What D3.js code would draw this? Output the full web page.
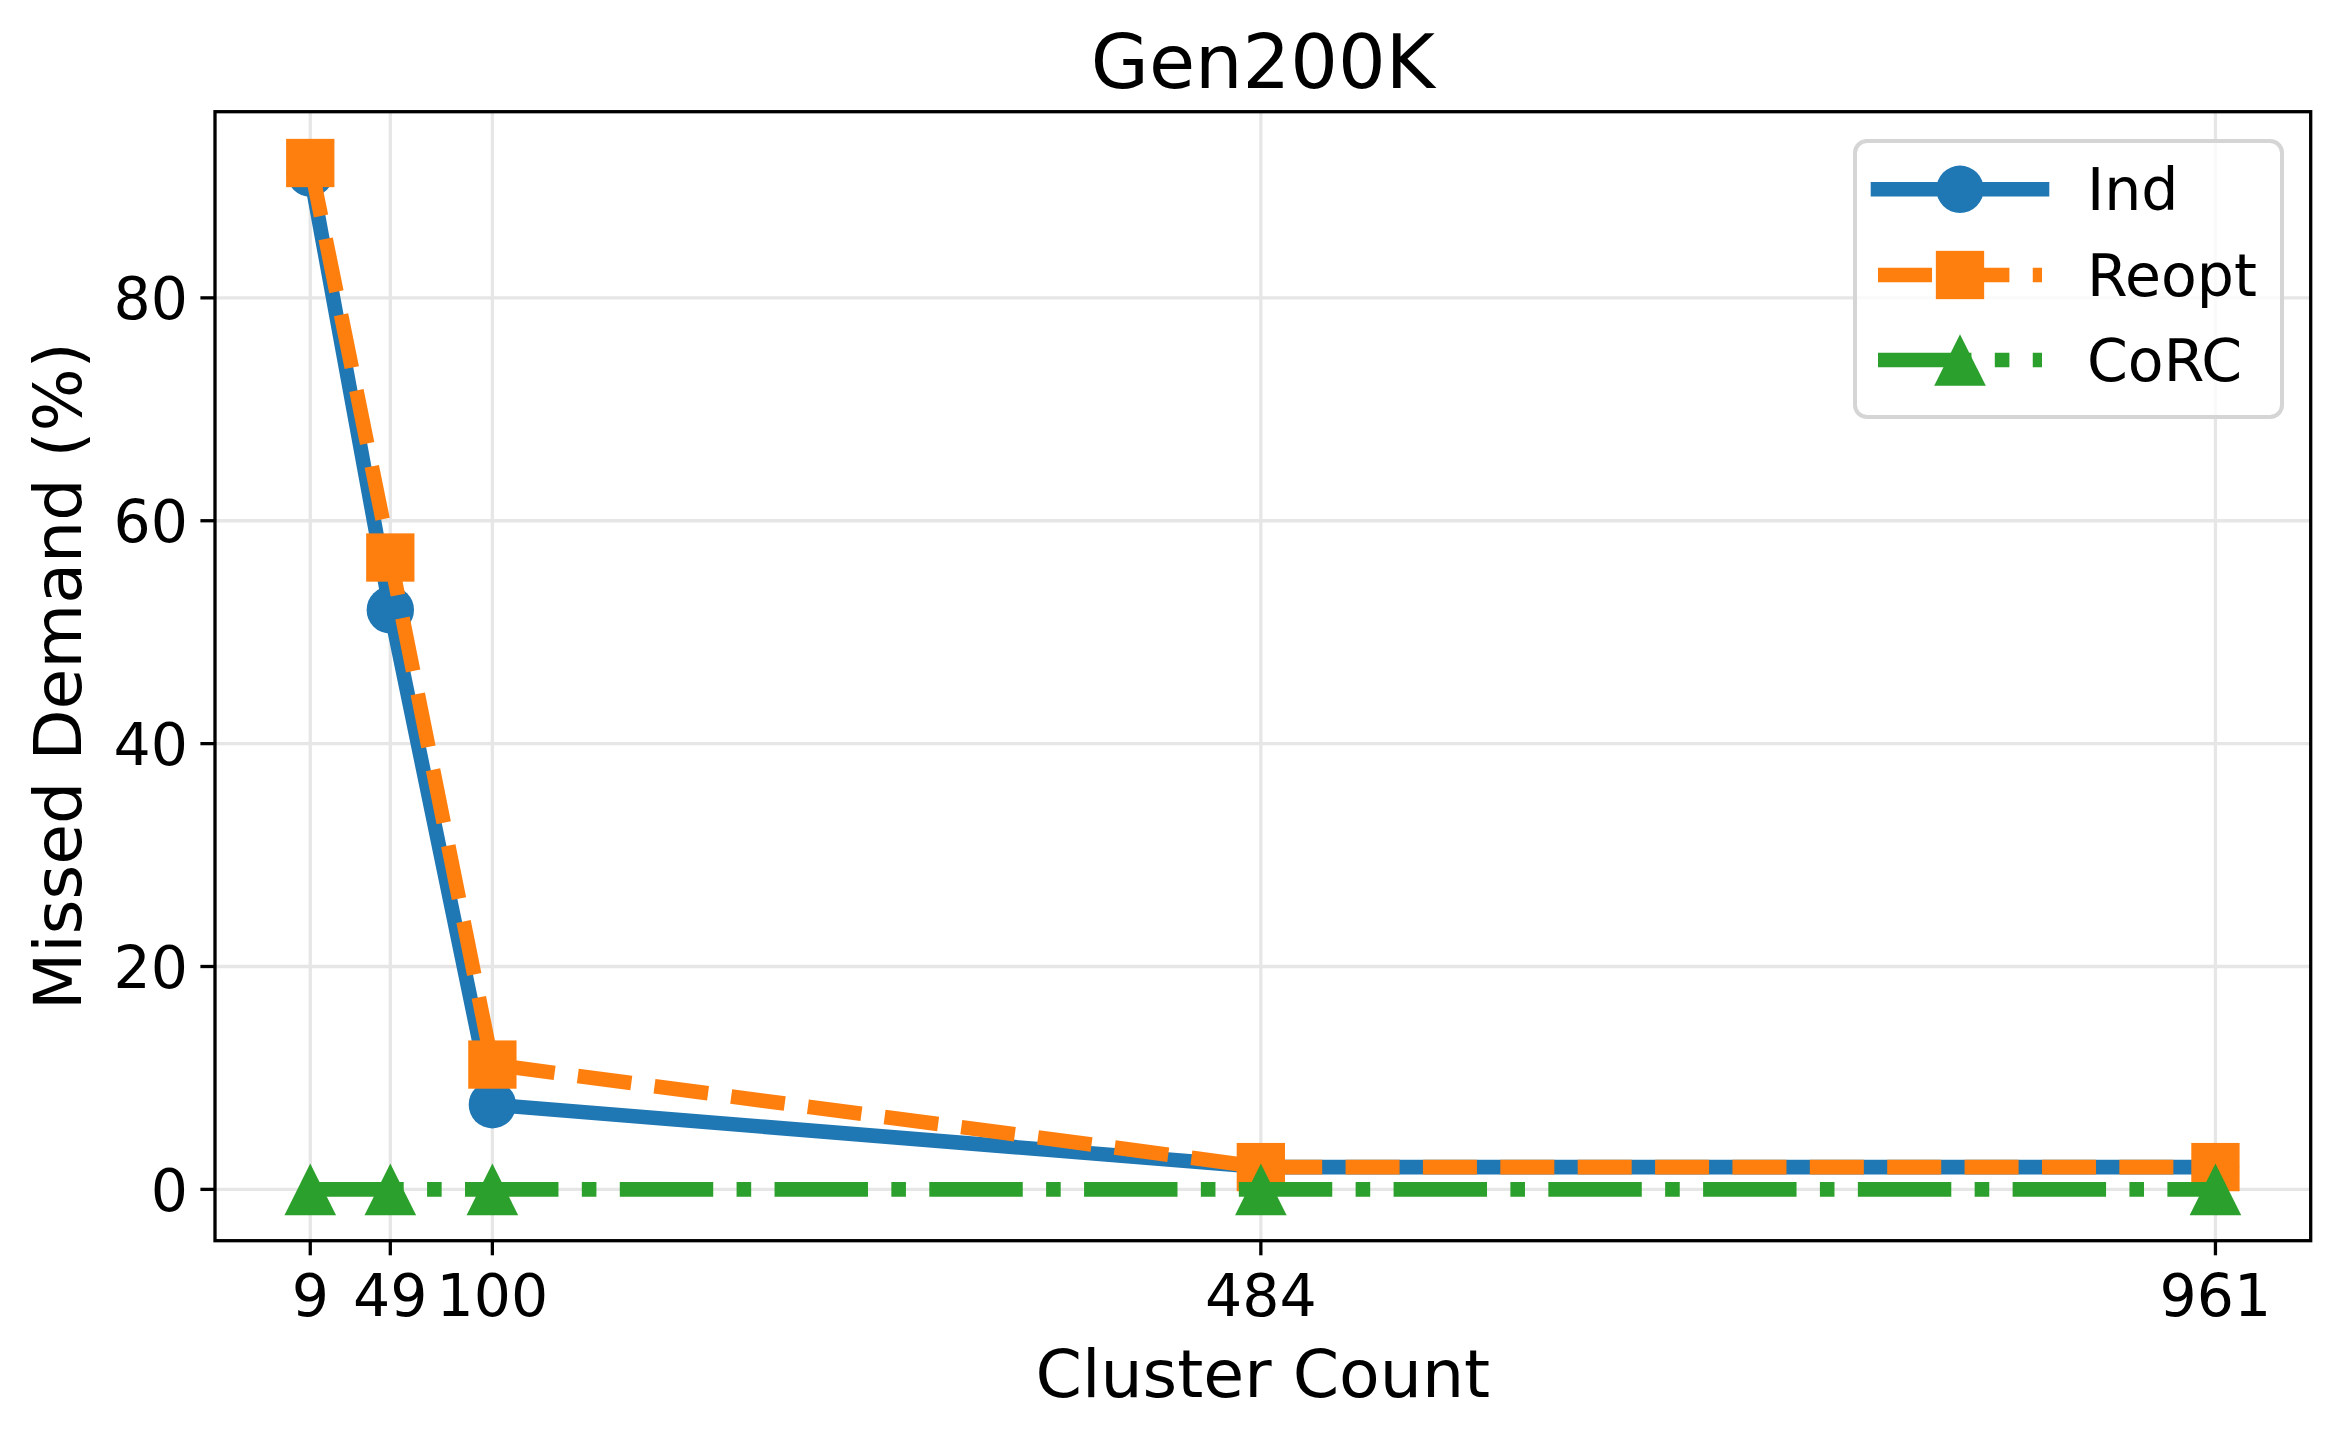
<!DOCTYPE html>
<html>
<head>
<meta charset="utf-8">
<script src="https://cdn.jsdelivr.net/npm/d3@7"></script>
<style>
  body { margin: 0; background: #fff; }
  svg text { font-family: "DejaVu Sans", sans-serif; fill: #000; }
</style>
</head>
<body>
<div id="chart"></div>
<script>
// 数据
const clusterCounts = [9, 49, 100, 484, 961];
const indValues = [91.2, 52.0, 7.6, 2.0, 2.0];
const reoptValues = [92.1, 56.7, 11.2, 2.0, 2.0];
const corcValues = [0, 0, 0, 0, 0];
const yTicks = [0, 20, 40, 60, 80];
const seriesNames = ['Ind', 'Reopt', 'CoRC'];

const width = 2340;
const height = 1440;
const margin = { top: 111.7, right: 29.3, bottom: 199.3, left: 215 };
const lw = 14.6;
const tickFont = 58.5;

const colors = {
  ind: '#1f77b4',
  reopt: '#ff7f0e',
  corc: '#2ca02c',
  grid: '#e6e6e6'
};

const series = [
  { name: seriesNames[0], values: indValues, color: colors.ind, dash: null, marker: 'circle' },
  { name: seriesNames[1], values: reoptValues, color: colors.reopt, dash: [3.7 * lw, 1.6 * lw], marker: 'square' },
  { name: seriesNames[2], values: corcValues, color: colors.corc, dash: [6.4 * lw, 1.6 * lw, 1 * lw, 1.6 * lw], marker: 'triangle' }
];

const svg = d3.select('#chart').append('svg')
  .attr('width', width)
  .attr('height', height);

// 比例尺（5% 边距）
const xExt = d3.extent(clusterCounts);
const xPad = (xExt[1] - xExt[0]) * 0.05;
const x = d3.scaleLinear()
  .domain([xExt[0] - xPad, xExt[1] + xPad])
  .range([margin.left, width - margin.right]);

const allY = indValues.concat(reoptValues, corcValues);
const yExt = d3.extent(allY);
const yPad = (yExt[1] - yExt[0]) * 0.05;
const y = d3.scaleLinear()
  .domain([yExt[0] - yPad, yExt[1] + yPad])
  .range([height - margin.bottom, margin.top]);

const plotW = width - margin.left - margin.right;
const plotH = height - margin.top - margin.bottom;

// 网格
const grid = svg.append('g');
grid.selectAll('.gx').data(clusterCounts).enter().append('line')
  .attr('x1', d => x(d)).attr('x2', d => x(d))
  .attr('y1', margin.top).attr('y2', height - margin.bottom)
  .attr('stroke', colors.grid).attr('stroke-width', 3.3);
grid.selectAll('.gy').data(yTicks).enter().append('line')
  .attr('x1', margin.left).attr('x2', width - margin.right)
  .attr('y1', d => y(d)).attr('y2', d => y(d))
  .attr('stroke', colors.grid).attr('stroke-width', 3.3);

// 标记
function drawMarker(g, type, cx, cy, color) {
  if (type === 'circle') {
    g.append('circle').attr('cx', cx).attr('cy', cy).attr('r', 23.7)
      .attr('fill', color);
  } else if (type === 'square') {
    g.append('rect').attr('x', cx - 24.15).attr('y', cy - 24.15)
      .attr('width', 48.3).attr('height', 48.3)
      .attr('fill', color);
  } else {
    const h = 25.8;
    g.append('path')
      .attr('d', `M${cx},${cy - h} L${cx + h},${cy + h} L${cx - h},${cy + h} Z`)
      .attr('fill', color);
  }
}

// 折线
const line = d3.line().x(d => x(d[0])).y(d => y(d[1]));

series.forEach(s => {
  const g = svg.append('g');
  const pts = clusterCounts.map((c, i) => [c, s.values[i]]);
  g.append('path')
    .datum(pts)
    .attr('d', line)
    .attr('fill', 'none')
    .attr('stroke', s.color)
    .attr('stroke-width', lw)
    .attr('stroke-linejoin', 'round')
    .attr('stroke-linecap', s.dash ? 'butt' : 'square')
    .attr('stroke-dasharray', s.dash ? s.dash.join(',') : null);
  pts.forEach(p => drawMarker(g, s.marker, x(p[0]), y(p[1]), s.color));
});

// 坐标轴边框
svg.append('rect')
  .attr('x', margin.left).attr('y', margin.top)
  .attr('width', plotW).attr('height', plotH)
  .attr('fill', 'none').attr('stroke', '#000').attr('stroke-width', 3.3);

// X 轴刻度
const xAxis = svg.append('g');
xAxis.selectAll('line').data(clusterCounts).enter().append('line')
  .attr('x1', d => x(d)).attr('x2', d => x(d))
  .attr('y1', height - margin.bottom).attr('y2', height - margin.bottom + 14.6)
  .attr('stroke', '#000').attr('stroke-width', 3.3);
xAxis.selectAll('text').data(clusterCounts).enter().append('text')
  .attr('x', d => x(d))
  .attr('y', 1316)
  .attr('text-anchor', 'middle')
  .attr('font-size', tickFont)
  .text(d => d);

// Y 轴刻度
const yAxis = svg.append('g');
yAxis.selectAll('line').data(yTicks).enter().append('line')
  .attr('x1', margin.left - 14.6).attr('x2', margin.left)
  .attr('y1', d => y(d)).attr('y2', d => y(d))
  .attr('stroke', '#000').attr('stroke-width', 3.3);
yAxis.selectAll('text').data(yTicks).enter().append('text')
  .attr('x', 188)
  .attr('y', d => y(d) + 21.5)
  .attr('text-anchor', 'end')
  .attr('font-size', tickFont)
  .text(d => d);

// 标题和轴标签
svg.append('text')
  .attr('x', margin.left + plotW / 2)
  .attr('y', 88)
  .attr('text-anchor', 'middle')
  .attr('font-size', 75)
  .text('Gen200K');

svg.append('text')
  .attr('x', margin.left + plotW / 2)
  .attr('y', 1397)
  .attr('text-anchor', 'middle')
  .attr('font-size', 66.5)
  .text('Cluster Count');

svg.append('text')
  .attr('transform', `translate(81, ${margin.top + plotH / 2}) rotate(-90)`)
  .attr('text-anchor', 'middle')
  .attr('font-size', 66.5)
  .text('Missed Demand (%)');

// 图例
const legend = svg.append('g');
legend.append('rect')
  .attr('x', 1855).attr('y', 141)
  .attr('width', 427).attr('height', 276)
  .attr('rx', 12).attr('ry', 12)
  .attr('fill', 'rgba(255,255,255,0.8)')
  .attr('stroke', '#d5d5d5')
  .attr('stroke-width', 4);

const legendRows = [189.3, 275, 360];
series.forEach((s, i) => {
  const cy = legendRows[i];
  legend.append('line')
    .attr('x1', 1878).attr('x2', 2042)
    .attr('y1', cy).attr('y2', cy)
    .attr('stroke', s.color)
    .attr('stroke-width', lw)
    .attr('stroke-linecap', s.dash ? 'butt' : 'square')
    .attr('stroke-dasharray', s.dash ? s.dash.join(',') : null);
  drawMarker(legend, s.marker, 1960, cy, s.color);
  legend.append('text')
    .attr('x', 2087)
    .attr('y', cy + 20.5)
    .attr('font-size', tickFont)
    .text(s.name);
});
</script>
</body>
</html>
